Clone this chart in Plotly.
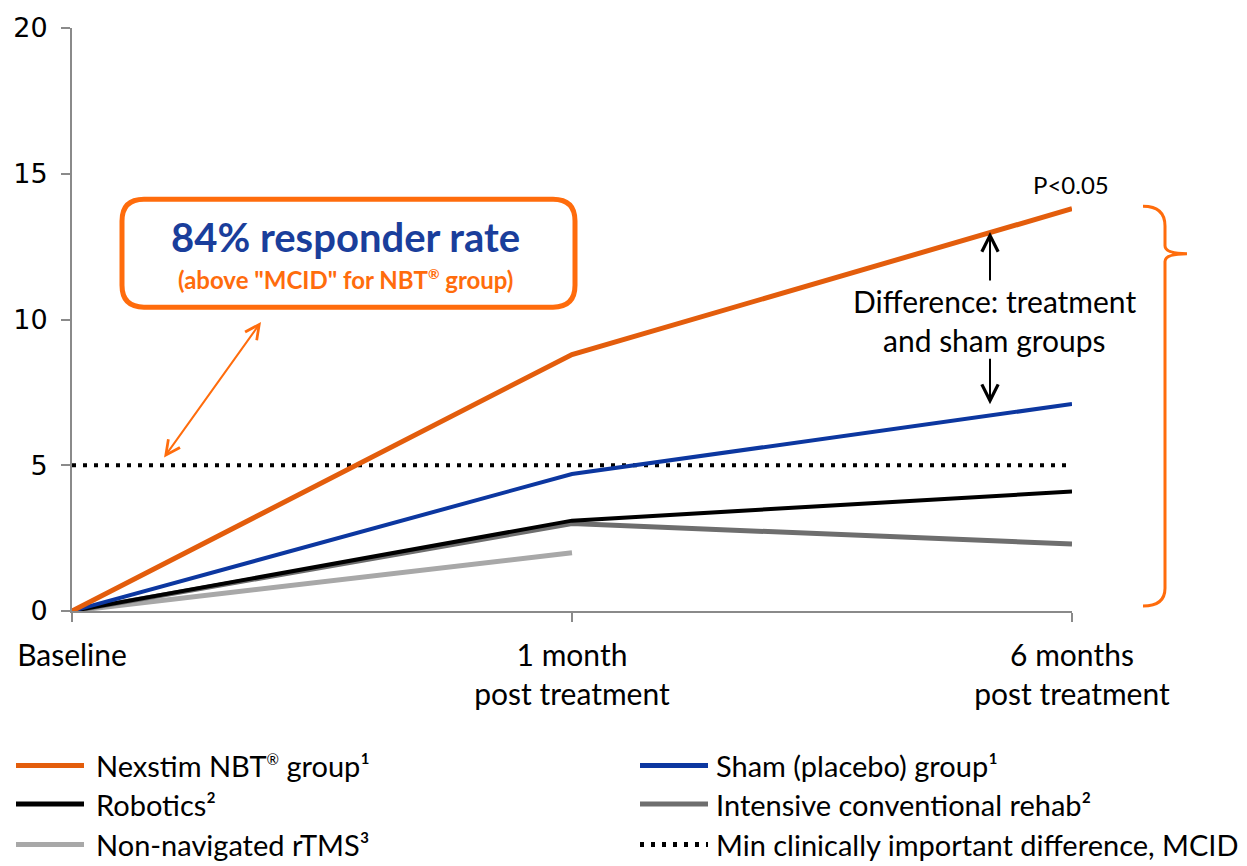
import plotly.graph_objects as go

# ---------------- data ----------------
categories = ["Baseline", "1 month<br>post treatment", "6 months<br>post treatment"]
nexstim = [0, 8.8, 13.8]
sham = [0, 4.7, 7.1]
robotics = [0, 3.1, 4.1]
intensive = [0, 3.0, 2.3]
rtms = [0, 2.0, None]
mcid = [5, 5, 5]
y_ticks = [0, 5, 10, 15, 20]

REG = "<sup><span style='font-size:15px'>®</span></sup>"
series_names = [
    f"Nexstim NBT{REG} group¹",
    "Sham (placebo) group¹",
    "Robotics²",
    "Intensive conventional rehab²",
    "Non-navigated rTMS³",
    "Min clinically important difference, MCID",
]

# ---------------- styles ----------------
C_NBT = "#E35D0C"
C_SHAM = "#0C37A0"
C_ROB = "#000000"
C_INT = "#6E6E6E"
C_RTMS = "#A8A8A8"
C_BOX = "#FF6C0C"
C_TXT_BLUE = "#1A3E9B"
AXIS = "#8A8A8A"
FONT = "Lato"
MCID_DASH = "4px,7px"

W, H = 1247, 866
L, R, T, B = 72, 175, 22, 255
X0, X1 = L, W - R
Y0, Y1 = H - B, T


def px(x):
    return (x - X0) / (X1 - X0)


def py(y):
    return (Y0 - y) / (Y0 - Y1)


xs = list(range(len(categories)))

fig = go.Figure()

# draw order: bottom to top
trace_specs = [
    (mcid, "black", 4, MCID_DASH, series_names[5]),
    (rtms, C_RTMS, 5, "solid", series_names[4]),
    (intensive, C_INT, 5, "solid", series_names[3]),
    (robotics, C_ROB, 4, "solid", series_names[2]),
    (sham, C_SHAM, 4, "solid", series_names[1]),
    (nexstim, C_NBT, 5, "solid", series_names[0]),
]
for vals, col, wdt, dash, name in trace_specs:
    fig.add_trace(go.Scatter(
        x=xs, y=vals, mode="lines", name=name,
        line=dict(color=col, width=wdt, dash=dash),
        cliponaxis=False, showlegend=False, hoverinfo="skip",
    ))

shapes = []
annotations = []


def rrect(x0, y0, x1, y1, r):
    return (f"M {px(x0 + r)},{py(y0)} L {px(x1 - r)},{py(y0)} "
            f"Q {px(x1)},{py(y0)} {px(x1)},{py(y0 + r)} "
            f"L {px(x1)},{py(y1 - r)} Q {px(x1)},{py(y1)} {px(x1 - r)},{py(y1)} "
            f"L {px(x0 + r)},{py(y1)} Q {px(x0)},{py(y1)} {px(x0)},{py(y1 - r)} "
            f"L {px(x0)},{py(y0 + r)} Q {px(x0)},{py(y0)} {px(x0 + r)},{py(y0)} Z")


def arrow(hx, hy, tx, ty, color, size, both=False):
    d = dict(xref="paper", yref="paper", x=px(hx), y=py(hy),
             axref="pixel", ayref="pixel", ax=tx - hx, ay=ty - hy,
             text="", showarrow=True, arrowhead=5, arrowsize=size,
             arrowwidth=2, arrowcolor=color)
    if both:
        d.update(arrowside="end+start", startarrowhead=5, startarrowsize=size)
    return d


# rounded callout box
shapes.append(dict(type="path", xref="paper", yref="paper",
                   path=rrect(122, 195, 575, 304, 22),
                   line=dict(color=C_BOX, width=5), fillcolor="white"))
annotations.append(dict(xref="paper", yref="paper", x=px(345), y=py(233),
                        text="<b>84% responder rate</b>", showarrow=False,
                        font=dict(family=FONT, size=40, color=C_TXT_BLUE),
                        xanchor="center", yanchor="middle"))
annotations.append(dict(xref="paper", yref="paper", x=px(345), y=py(276),
                        text="<b>(above \"MCID\" for NBT<sup><span style='font-size:14px'>®</span></sup> group)</b>",
                        showarrow=False,
                        font=dict(family=FONT, size=24, color=C_BOX),
                        xanchor="center", yanchor="middle"))

# orange double-headed arrow
annotations.append(arrow(261, 319, 163, 456, C_BOX, 1.4, both=True))

# black arrows (difference)
annotations.append(arrow(990, 228, 990, 278, "black", 1.6))
annotations.append(arrow(990, 402, 990, 355, "black", 1.6))
annotations.append(dict(xref="paper", yref="paper", x=px(994), y=py(298),
                        text="Difference: treatment", showarrow=False,
                        font=dict(family=FONT, size=30, color="black"),
                        xanchor="center", yanchor="middle"))
annotations.append(dict(xref="paper", yref="paper", x=px(994), y=py(337),
                        text="and sham groups", showarrow=False,
                        font=dict(family=FONT, size=30, color="black"),
                        xanchor="center", yanchor="middle"))
annotations.append(dict(xref="paper", yref="paper", x=px(1071), y=py(180),
                        text="P<0.05", showarrow=False,
                        font=dict(family=FONT, size=24, color="black"),
                        xanchor="center", yanchor="middle"))

# right curly brace
brace = (f"M {px(1143)},{py(202)} Q {px(1165)},{py(202)} {px(1165)},{py(222)} "
         f"L {px(1165)},{py(242)} Q {px(1165)},{py(250)} {px(1187)},{py(250)} "
         f"Q {px(1165)},{py(250)} {px(1165)},{py(258)} "
         f"L {px(1165)},{py(588)} Q {px(1165)},{py(606)} {px(1143)},{py(606)}")
shapes.append(dict(type="path", xref="paper", yref="paper", path=brace,
                   line=dict(color=C_BOX, width=3)))

# custom legend
legend_items = [
    (series_names[0], C_NBT, "solid", 16, 94, 767),
    (series_names[1], C_SHAM, "solid", 640, 714, 767),
    (series_names[2], C_ROB, "solid", 16, 94, 806),
    (series_names[3], C_INT, "solid", 640, 714, 806),
    (series_names[4], C_RTMS, "solid", 16, 94, 847),
    (series_names[5], "black", MCID_DASH, 640, 714, 847),
]
for name, col, dash, lx, tx, ly in legend_items:
    shapes.append(dict(type="line", xref="paper", yref="paper",
                       x0=px(lx), x1=px(lx + 68), y0=py(ly), y1=py(ly),
                       line=dict(color=col, width=5, dash=dash)))
    annotations.append(dict(xref="paper", yref="paper", x=px(tx), y=py(ly),
                            text=name, showarrow=False,
                            font=dict(family=FONT, size=29, color="black"),
                            xanchor="left", yanchor="middle"))

fig.update_layout(
    width=W, height=H,
    margin=dict(l=L, r=R, t=T, b=B),
    plot_bgcolor="white", paper_bgcolor="white",
    showlegend=False,
    shapes=shapes, annotations=annotations,
    font=dict(family=FONT, color="black"),
    xaxis=dict(range=[0, len(categories) - 1], tickvals=xs, ticktext=categories,
               showgrid=False, zeroline=False, showline=True, linecolor=AXIS, linewidth=2,
               ticks="outside", ticklen=9, tickcolor=AXIS, tickwidth=2,
               tickfont=dict(family=FONT, size=30, color="black"), ticklabelstandoff=8),
    yaxis=dict(range=[0, 20], tickvals=y_ticks,
               showgrid=False, zeroline=False, showline=True, linecolor=AXIS, linewidth=2,
               ticks="outside", ticklen=9, tickcolor=AXIS, tickwidth=2,
               tickfont=dict(family="DejaVu Sans", size=27, color="black"), ticklabelstandoff=8),
)

fig.write_html(
    "out.html",
    config={"displayModeBar": False},
    post_script="document.body.style.margin='0';document.body.style.overflow='hidden';",
)
